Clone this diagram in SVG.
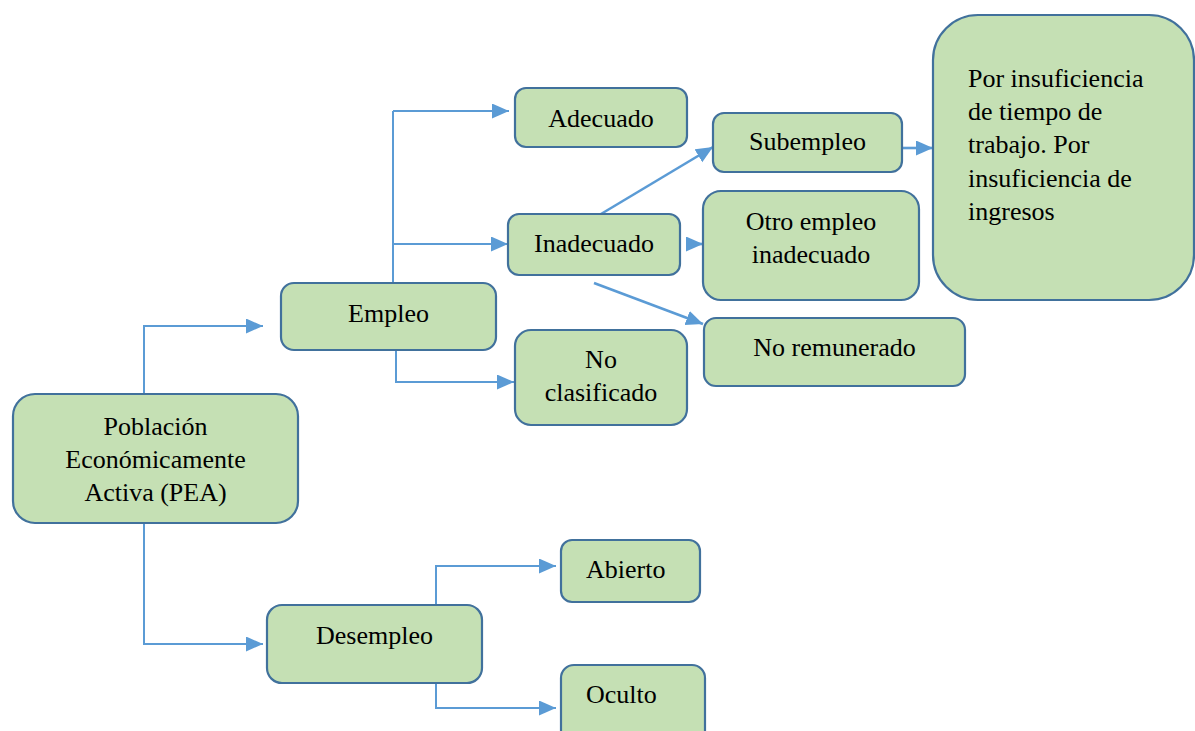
<svg xmlns="http://www.w3.org/2000/svg" width="1195" height="731" viewBox="0 0 1195 731">
  <style>
    .box { fill: #C5E0B4; stroke: #41719C; stroke-width: 2.2; }
    text { font-family: "Liberation Serif", "Times New Roman", Tinos, "Nimbus Roman", "Noto Serif", FreeSerif, "DejaVu Serif", serif; font-size: 26px; fill: #000; }
    .lbl { text-anchor: middle; }
    .lft { text-anchor: start; }
    .conn { fill: none; stroke: #5B9BD5; stroke-width: 2; }
    .diag { fill: none; stroke: #5B9BD5; stroke-width: 2.6; }
  </style>
  <defs>
    <marker id="arr" markerUnits="userSpaceOnUse" markerWidth="18" markerHeight="16" refX="17" refY="7.5" orient="auto">
      <path d="M0,0 L17,7.5 L0,15 Z" fill="#5B9BD5"/>
    </marker>
  </defs>
  <rect width="1195" height="731" fill="#ffffff"/>

  <g id="connectors">
    <polyline class="conn" points="144,394 144,326 263,326" marker-end="url(#arr)"/>
    <polyline class="conn" points="144,523 144,644 263,644" marker-end="url(#arr)"/>
    <line class="conn" x1="393" y1="111" x2="393" y2="283"/>
    <line class="conn" x1="393" y1="111" x2="509" y2="111" marker-end="url(#arr)"/>
    <line class="conn" x1="393" y1="244" x2="508" y2="244" marker-end="url(#arr)"/>
    <polyline class="conn" points="396,350 396,382 514,382" marker-end="url(#arr)"/>
    <line class="diag" x1="601" y1="214" x2="713" y2="147" marker-end="url(#arr)"/>
    <line class="diag" x1="594" y1="283" x2="703" y2="324" marker-end="url(#arr)"/>
    <line class="diag" x1="686" y1="244" x2="703" y2="244" marker-end="url(#arr)"/>
    <line class="diag" x1="902" y1="148" x2="933" y2="148" marker-end="url(#arr)"/>
    <polyline class="conn" points="436,605 436,566 556,566" marker-end="url(#arr)"/>
    <polyline class="conn" points="436,683 436,708 556,708" marker-end="url(#arr)"/>
  </g>

  <g id="pea">
    <rect class="box" x="13" y="394" width="285" height="129" rx="22"/>
    <text class="lbl" x="155.5" y="435">Población</text>
    <text class="lbl" x="155.5" y="468">Económicamente</text>
    <text class="lbl" x="155.5" y="501">Activa (PEA)</text>
  </g>
  <g id="empleo">
    <rect class="box" x="281" y="283" width="215" height="67" rx="13"/>
    <text class="lbl" x="388.5" y="322">Empleo</text>
  </g>
  <g id="adecuado">
    <rect class="box" x="515" y="88" width="172" height="59" rx="11"/>
    <text class="lbl" x="601" y="127">Adecuado</text>
  </g>
  <g id="inadecuado">
    <rect class="box" x="508" y="214" width="172" height="61" rx="11"/>
    <text class="lbl" x="594" y="252">Inadecuado</text>
  </g>
  <g id="noclasificado">
    <rect class="box" x="515" y="330" width="172" height="95" rx="16"/>
    <text class="lbl" x="601" y="368">No</text>
    <text class="lbl" x="601" y="401">clasificado</text>
  </g>
  <g id="subempleo">
    <rect class="box" x="713" y="113" width="189" height="59" rx="11"/>
    <text class="lbl" x="807.5" y="150">Subempleo</text>
  </g>
  <g id="otroempleo">
    <rect class="box" x="703" y="191" width="216" height="109" rx="18"/>
    <text class="lbl" x="811" y="230">Otro empleo</text>
    <text class="lbl" x="811" y="263">inadecuado</text>
  </g>
  <g id="noremunerado">
    <rect class="box" x="704" y="318" width="261" height="68" rx="12"/>
    <text class="lbl" x="834.5" y="356">No remunerado</text>
  </g>
  <g id="insuficiencia">
    <rect class="box" x="933" y="15" width="261" height="285" rx="45"/>
    <text class="lft" x="968" y="87">Por insuficiencia</text>
    <text class="lft" x="968" y="120">de tiempo de</text>
    <text class="lft" x="968" y="153">trabajo. Por</text>
    <text class="lft" x="968" y="187">insuficiencia de</text>
    <text class="lft" x="968" y="220">ingresos</text>
  </g>
  <g id="desempleo">
    <rect class="box" x="267" y="605" width="215" height="78" rx="15"/>
    <text class="lbl" x="374.5" y="644">Desempleo</text>
  </g>
  <g id="abierto">
    <rect class="box" x="561" y="540" width="139" height="62" rx="11"/>
    <text class="lft" x="586" y="578">Abierto</text>
  </g>
  <g id="oculto">
    <rect class="box" x="561" y="665" width="144" height="80" rx="13"/>
    <text class="lft" x="586" y="703">Oculto</text>
  </g>
</svg>
